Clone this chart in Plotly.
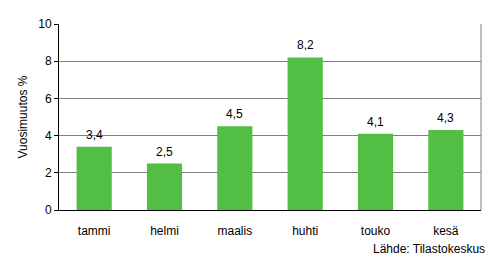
import plotly.graph_objects as go

categories = ["tammi", "helmi", "maalis", "huhti", "touko", "kesä"]
values = [3.4, 2.5, 4.5, 8.2, 4.1, 4.3]
labels = ["3,4", "2,5", "4,5", "8,2", "4,1", "4,3"]
y_ticks = [0, 2, 4, 6, 8, 10]

FONT = "Liberation Sans, Arial, sans-serif"

fig = go.Figure()
fig.add_trace(go.Bar(
    x=categories, y=values, marker_color="#52BE46", marker_line_width=0,
    width=0.5, hoverinfo="skip"
))

for c, v, t in zip(categories, values, labels):
    fig.add_annotation(x=c, y=v, text=t, showarrow=False, yanchor="bottom",
                       yshift=3, font=dict(family=FONT, size=12, color="black"))

fig.add_annotation(xref="paper", yref="paper", x=1.0, y=0, xanchor="right",
                   yanchor="middle", xshift=6, yshift=-39,
                   text="Lähde: Tilastokeskus", showarrow=False,
                   font=dict(family=FONT, size=12, color="black"))

fig.add_shape(type="line", xref="paper", yref="paper", x0=1, x1=1, y0=0, y1=1,
              line=dict(color="#808080", width=1))

fig.update_layout(
    width=495, height=266,
    margin=dict(l=59, r=14, t=23.5, b=56),
    paper_bgcolor="white", plot_bgcolor="white",
    showlegend=False,
    font=dict(family=FONT, size=12, color="black"),
    xaxis=dict(showline=True, linecolor="black", linewidth=1, ticks="",
               showgrid=False, ticklabelstandoff=10,
               tickfont=dict(family=FONT, size=12, color="black")),
    yaxis=dict(range=[0, 10], tickvals=y_ticks, showline=True, linecolor="black",
               linewidth=1, ticks="outside", ticklen=4, tickcolor="black",
               showgrid=True, gridcolor="#808080", gridwidth=1, zeroline=False,
               title=dict(text="Vuosimuutos %", standoff=8,
                          font=dict(family=FONT, size=12, color="black")),
               tickfont=dict(family=FONT, size=12, color="black")),
)

fig.write_html("out.html")
